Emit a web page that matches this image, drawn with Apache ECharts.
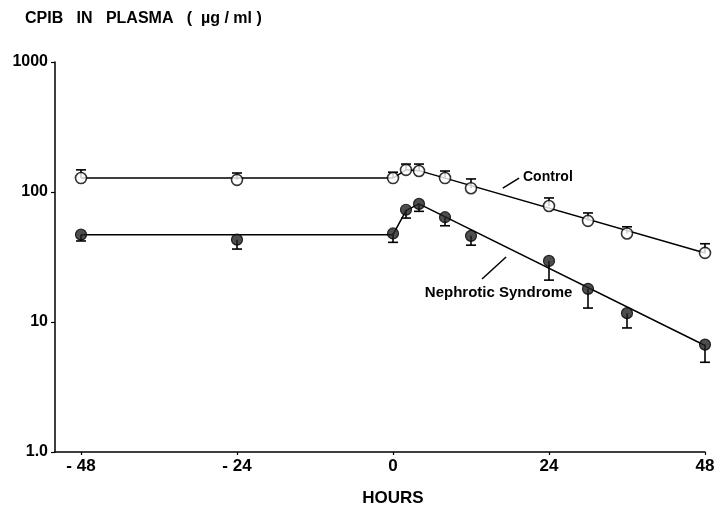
<!DOCTYPE html>
<html>
<head>
<meta charset="utf-8">
<script src="https://cdn.jsdelivr.net/npm/echarts@6/dist/echarts.min.js"></script>
<style>
  html, body { margin: 0; padding: 0; background: #fff; }
  #chart { width: 715px; height: 506px; }
</style>
</head>
<body>
<div id="chart"></div>
<script>
// sampling times (hours)
var hours = [-48, -24, 0, 2, 4, 8, 12, 24, 30, 36, 48];
// control group: mean and top of error bar (ug/ml)
var controlMean = [128, 124, 128, 148, 145, 128, 107, 78, 60, 48, 34];
var controlUpper = [148, 140, 142, 164, 164, 145, 126, 90, 69, 54, 40];
// nephrotic syndrome: mean and bottom of error bar
var nephMean = [47, 43, 48, 73, 81, 64, 46, 29.5, 18, 11.7, 6.7];
var nephLower = [42, 36.4, 41, 63, 71, 55, 39, 21, 12.8, 9, 4.9];
// drawn curves
var controlFitX = [-48, 0, 2, 4, 48];
var controlFitY = [128, 128, 148, 146, 34];
var nephFitX = [-48, 0, 2, 4, 48];
var nephFitY = [47, 47, 72, 81, 6.6];
// axis ticks
var xTicks = [-48, -24, 0, 24, 48];

var FONT = 'Liberation Sans';
var chart = echarts.init(document.getElementById('chart'));

function pairs(xs, ys) {
    return xs.map(function (x, i) { return [x, ys[i]]; });
}

function errBar(params, api) {
    var p = api.coord([api.value(0), api.value(1)]);
    var e = api.coord([api.value(0), api.value(2)]);
    var st = { stroke: '#000', lineWidth: 1.6 };
    return {
        type: 'group',
        children: [
            { type: 'line', shape: { x1: p[0], y1: p[1], x2: e[0], y2: e[1] }, style: st },
            { type: 'line', shape: { x1: e[0] - 5, y1: e[1], x2: e[0] + 5, y2: e[1] }, style: st }
        ]
    };
}

var option = {
    animation: false,
    backgroundColor: '#fff',
    grid: { left: 55, right: 10, top: 62, bottom: 54, containLabel: false, outerBoundsMode: 'none' },
    xAxis: {
        type: 'value',
        min: -52,
        max: 48,
        splitLine: { show: false },
        axisLine: { onZero: false, lineStyle: { color: '#000', width: 1.5 } },
        axisTick: { customValues: xTicks, length: 3, lineStyle: { color: '#000', width: 1.2 } },
        axisLabel: {
            customValues: xTicks,
            margin: 6,
            color: '#000',
            fontFamily: FONT,
            fontWeight: 'bold',
            fontSize: 17,
            formatter: function (v) { return v < 0 ? '- ' + Math.abs(v) : String(v); }
        }
    },
    yAxis: {
        type: 'log',
        logBase: 10,
        min: 1,
        max: 1000,
        splitLine: { show: false },
        minorTick: { show: false },
        axisLine: { show: true, onZero: false, lineStyle: { color: '#000', width: 1.5 } },
        axisTick: { length: 4, lineStyle: { color: '#000', width: 1.2 } },
        axisLabel: {
            margin: 7,
            color: '#000',
            fontFamily: FONT,
            fontWeight: 'bold',
            fontSize: 16,
            formatter: function (v) { return v === 1 ? '1.0' : String(v); }
        }
    },
    series: [
        {
            type: 'line', data: pairs(controlFitX, controlFitY), symbol: 'none',
            lineStyle: { color: '#000', width: 1.5 }, z: 1
        },
        {
            type: 'line', data: pairs(nephFitX, nephFitY), symbol: 'none',
            lineStyle: { color: '#000', width: 1.5 }, z: 1
        },
        {
            type: 'custom', renderItem: errBar, z: 2,
            data: hours.map(function (h, i) { return [h, controlMean[i], controlUpper[i]]; })
        },
        {
            type: 'custom', renderItem: errBar, z: 2,
            data: hours.map(function (h, i) { return [h, nephMean[i], nephLower[i]]; })
        },
        {
            type: 'scatter', data: pairs(hours, controlMean), symbol: 'circle', symbolSize: 11, z: 3,
            itemStyle: { color: '#fff', borderColor: '#000', borderWidth: 1.6 }
        },
        {
            type: 'scatter', data: pairs(hours, nephMean), symbol: 'circle', symbolSize: 11, z: 3,
            itemStyle: { color: '#222', borderColor: '#000', borderWidth: 1.2 }
        }
    ]
};
chart.setOption(option);

// annotations placed in data space
function px(pt) { return chart.convertToPixel({ gridIndex: 0 }, pt); }
var cText = px([20, 130]);
var cA = px([16.9, 107]), cB = px([19.4, 128]);
var nText = px([4.9, 16.7]);
var nA = px([13.7, 21.4]), nB = px([17.4, 31.6]);
var hrs = px([0, 1]);
var lineStyle = { stroke: '#000', lineWidth: 1.5 };
var textStyle = function (t, x, y, size, align) {
    return {
        type: 'text', x: x, y: y,
        style: { text: t, fill: '#000', font: 'bold ' + size + 'px "' + FONT + '"', textAlign: align || 'left', textVerticalAlign: 'middle' }
    };
};
chart.setOption({
    graphic: [
        textStyle('CPIB   IN   PLASMA   (  \u00b5g / ml )', 25, 19, 16),
        textStyle('Control', cText[0], cText[1], 14),
        { type: 'line', shape: { x1: cA[0], y1: cA[1], x2: cB[0], y2: cB[1] }, style: lineStyle },
        textStyle('Nephrotic Syndrome', nText[0], nText[1], 15),
        { type: 'line', shape: { x1: nA[0], y1: nA[1], x2: nB[0], y2: nB[1] }, style: lineStyle },
        textStyle('HOURS', hrs[0], 498, 17, 'center')
    ]
});
</script>
</body>
</html>
